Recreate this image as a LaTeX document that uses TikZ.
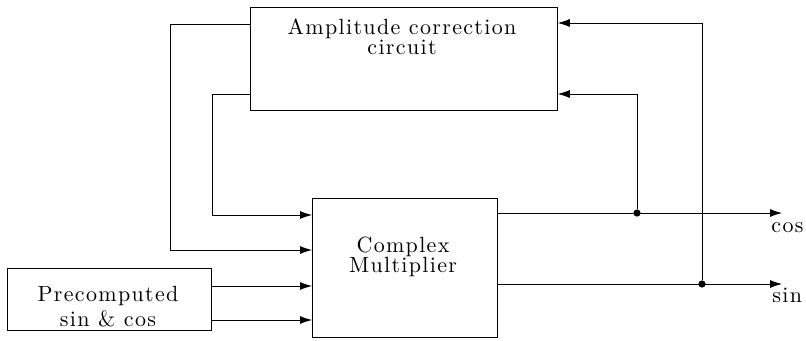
\documentclass[tikz,border=0pt]{standalone}
\usepackage{fontspec}
\usetikzlibrary{arrows.meta}
\newfontfamily\widefont{Latin Modern Roman}[LetterSpace=6]
\newcommand{\wide}{\fontsize{11}{10}\widefont}

\begin{document}
\begin{tikzpicture}[x=0.5pt, y=-0.5pt, thin,
		box/.style = {draw, inner sep=0pt, anchor=north west},
		txt/.style = {align=center, inner sep=0pt, anchor=north, font=\wide},
		sig/.style = {-{Latex[length=6pt,width=4pt]}},
		jn/.style  = {circle, fill, inner sep=0pt, minimum size=3.6pt}]
	\useasboundingbox (0,0) rectangle (806,341);
	% blocks
	\node[box, minimum width=153.5pt, minimum height=51.5pt] (acc) at (250,7) {};
	\node[txt] (acctxt) at (402,18) {Amplitude correction\\circuit};
	\node[box, minimum width=92.5pt, minimum height=69.5pt] (mul) at (312,198) {};
	\node[txt] (multxt) at (403,237) {Complex\\Multiplier};
	\node[box, minimum width=102pt, minimum height=31pt] (pre) at (7,268) {};
	\node[txt] (pretxt) at (108,286) {Precomputed\\[1.5pt]sin \& cos};
	% outputs
	\coordinate (cosend) at (782,213);
	\coordinate (sinend) at (782,284);
	\node[jn] (jcos) at (637,213) {};
	\node[jn] (jsin) at (702,284) {};
	\node[anchor=base west, inner sep=0pt, font=\wide] (coslbl) at (771,233) {cos};
	\node[anchor=base west, inner sep=0pt, font=\wide] (sinlbl) at (772,302) {sin};
	\draw[sig] (mul.east |- cosend) -- (cosend);
	\draw[sig] (mul.east |- sinend) -- (sinend);
	% feedback into correction circuit
	\draw[sig] (jcos) |- (acc.east |- 0,94);
	\draw[sig] (jsin) |- (acc.east |- 0,23);
	% corrected values back to the multiplier
	\draw[sig] (acc.west |- 0,24) -| (170,250) -- (mul.west |- 0,250);
	\draw[sig] (acc.west |- 0,94) -| (212,215) -- (mul.west |- 0,215);
	% precomputed table
	\draw[sig] (pre.east |- 0,286) -- (mul.west |- 0,286);
	\draw[sig] (pre.east |- 0,320) -- (mul.west |- 0,320);
\end{tikzpicture}
\end{document}
